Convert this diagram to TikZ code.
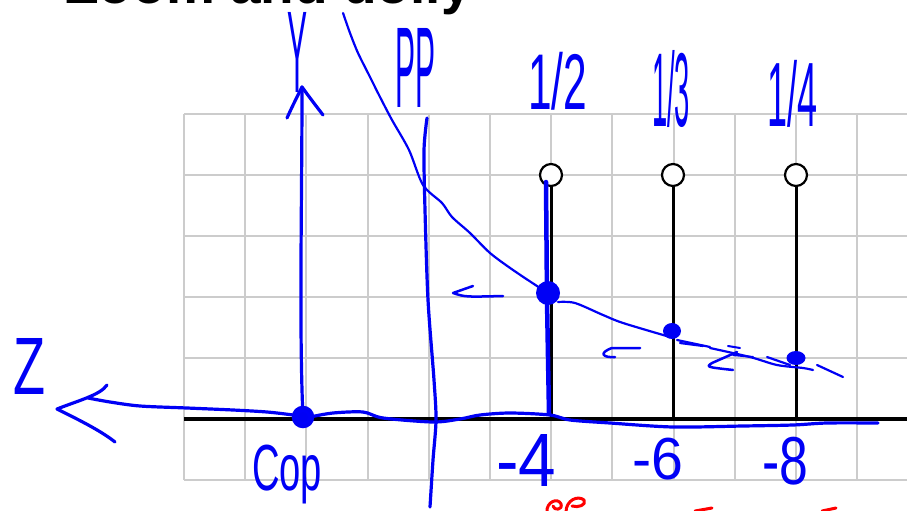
\documentclass[tikz,border=0pt]{standalone}
\usepackage{fontspec}
\setmainfont{Liberation Sans}
\setsansfont{Liberation Sans}
\usepackage{graphicx}
\usetikzlibrary{shapes.geometric}
\definecolor{hblue}{RGB}{0,0,245}
\definecolor{gridgray}{RGB}{204,204,204}
\tikzset{
  gridline/.style={draw=gridgray, line width=2pt},
  axisline/.style={draw=black, line width=4pt},
  stemline/.style={draw=black, line width=3pt},
  opencirc/.style={circle, draw=black, line width=2.2pt, fill=white, minimum size=22pt, inner sep=0pt},
  hand/.style={draw=hblue, line width=3.2pt, line cap=round, line join=round},
  handthin/.style={draw=hblue, line width=2.2pt, line cap=round, line join=round},
  handtext/.style={text=hblue, inner sep=0pt, font=\sffamily},
  bluedot/.style={fill=hblue, inner sep=0pt},
  reddraw/.style={draw=red, line width=3pt, line cap=round, line join=round},
}
\begin{document}
\begin{tikzpicture}[x=1pt,y=-1pt]
\useasboundingbox (0,0) rectangle (907,511);
\clip (0,0) rectangle (907,511);
\fill[white] (0,0) rectangle (907,511);
% title
\node[anchor=base west, inner sep=0pt, font=\fontsize{55}{55}\selectfont\bfseries] (title) at (65,4) {Zoom and dolly};
% grid
\foreach \i in {0,...,11} \draw[gridline] ({184+61.2*\i},114) -- ({184+61.2*\i},480);
\foreach \j in {0,...,6} \draw[gridline] (184,{114+61*\j}) -- (907,{114+61*\j});
% axis
\coordinate (axL) at (184,419);
\coordinate (axR) at (907,419);
\draw[axisline] (axL) -- (axR);
% stems with open circles
\foreach \n/\x in {1/551,2/673,3/796} {
  \coordinate (b\n) at (\x,419);
  \node[opencirc] (c\n) at (\x,175) {};
  \draw[stemline] (b\n) -- (c\n.south);
}
% projection plane line
\draw[hand] plot[smooth] coordinates {(427,118) (424,150) (425,210) (428,300) (434,380) (436,420) (433,460) (430,507)};
% Y axis
\coordinate (cop) at (303,417);
\coordinate (ytip) at (302,87);
\draw[hand] (cop) .. controls (299,330) and (302,200) .. (ytip);
\draw[hand] (287,118) .. controls (293,105) .. (ytip) .. controls (310,98) .. (323,115);
% Z axis
\coordinate (ztip) at (57,409);
\draw[hand] plot[smooth] coordinates {(303,417) (293,415) (267,412) (233,410) (187,408) (140,406) (110,402) (88,398)};
\draw[hand] (107,385) .. controls (100,395) and (80,400) .. (ztip) .. controls (75,418) and (100,430) .. (115,442);
\draw[hand] plot[smooth] coordinates {(310,417) (333,413) (363,412) (383,418) (433,422) (460,419) (480,415) (510,413) (550,415) (570,420) (610,423) (673,427) (743,426) (793,425) (827,423) (878,423)};
% COP
\node[circle, draw=hblue, fill=hblue!60!blue, line width=3.5pt, minimum size=19pt, inner sep=0pt] (copc) at (cop) {};
\fill[hblue] (cop) circle (5pt);
% hyperbola
\draw[handthin] plot[smooth] coordinates {(343,13) (350,33) (358,53) (370,77) (380,97) (392,120) (409,150) (423,185) (442,203) (452,217) (470,233) (490,253) (513,270) (543,290)};
\draw[handthin] plot[smooth] coordinates {(558,302) (575,303) (603,315) (623,323) (670,337)};
\draw[handthin] (677,340) -- (710,347);
\draw[handthin] (680,343) -- (703,346);
\draw[handthin] plot[smooth] coordinates {(710,348) (750,357) (777,365) (803,368) (813,370)};
\draw[handthin] (767,357) -- (790,365);
\draw[handthin] (817,365) -- (843,377);
% blue stem at 1/2
\draw[hand, line width=4.5pt] (546,182) -- (547,300) -- (549,414);
% dots
\node[bluedot, circle, minimum size=24pt] (p1) at (548,293) {};
\node[bluedot, ellipse, minimum width=18pt, minimum height=16pt] (p2) at (672,331) {};
\node[bluedot, ellipse, minimum width=19pt, minimum height=14pt] (p3) at (796,358) {};
% small arrows
\draw[hand, line width=2.5pt] (473,286) -- (453,293) .. controls (465,297) .. (503,296);
\draw[hand, line width=2.5pt] (640,348) -- (612,348) .. controls (598,353) and (603,358) .. (615,357);
\draw[hand, line width=2.5pt] (737,352) -- (712,363) .. controls (706,367) .. (733,370);
\draw[hand, line width=2pt] (733,355) -- (753,357);
\draw[hand, line width=2pt] (728,346) -- (740,348);
% handwritten labels
\node[handtext] (ylab) at (297.5,52) {\resizebox*{20pt}{80pt}{Y}};
\node[handtext] (pplab) at (415,67.5) {\resizebox*{40pt}{79pt}{PP}};
\node[handtext] (h2) at (557.5,81) {\resizebox*{59pt}{58pt}{1/2}};
\node[handtext] (h3) at (671,88.5) {\resizebox*{38pt}{77pt}{1/3}};
\node[handtext] (h4) at (792,93.5) {\resizebox*{50pt}{67pt}{1/4}};
\node[handtext] (zlab) at (30,366) {\resizebox*{32pt}{56pt}{Z}};
\node[handtext] (coplab) at (287,474.5) {\resizebox*{70pt}{59pt}{Cop}};
\node[handtext] (m4) at (526,460) {\resizebox*{60pt}{52pt}{-4}};
\node[handtext] (m6) at (657.5,459) {\resizebox*{51pt}{42pt}{-6}};
\node[handtext] (m8) at (785,461) {\resizebox*{46pt}{48pt}{-8}};
% red marks at bottom edge
\draw[reddraw] (547,512) .. controls (546,502) and (558,497) .. (561,504) .. controls (563,510) and (554,511) .. (553,506);
\draw[reddraw] (566,512) .. controls (566,500) and (578,495) .. (584,500) .. controls (587,505) and (578,508) .. (572,506);
\draw[reddraw] (695,511) -- (712,508);
\draw[reddraw] (822,511) -- (836,508);
\end{tikzpicture}
\end{document}
